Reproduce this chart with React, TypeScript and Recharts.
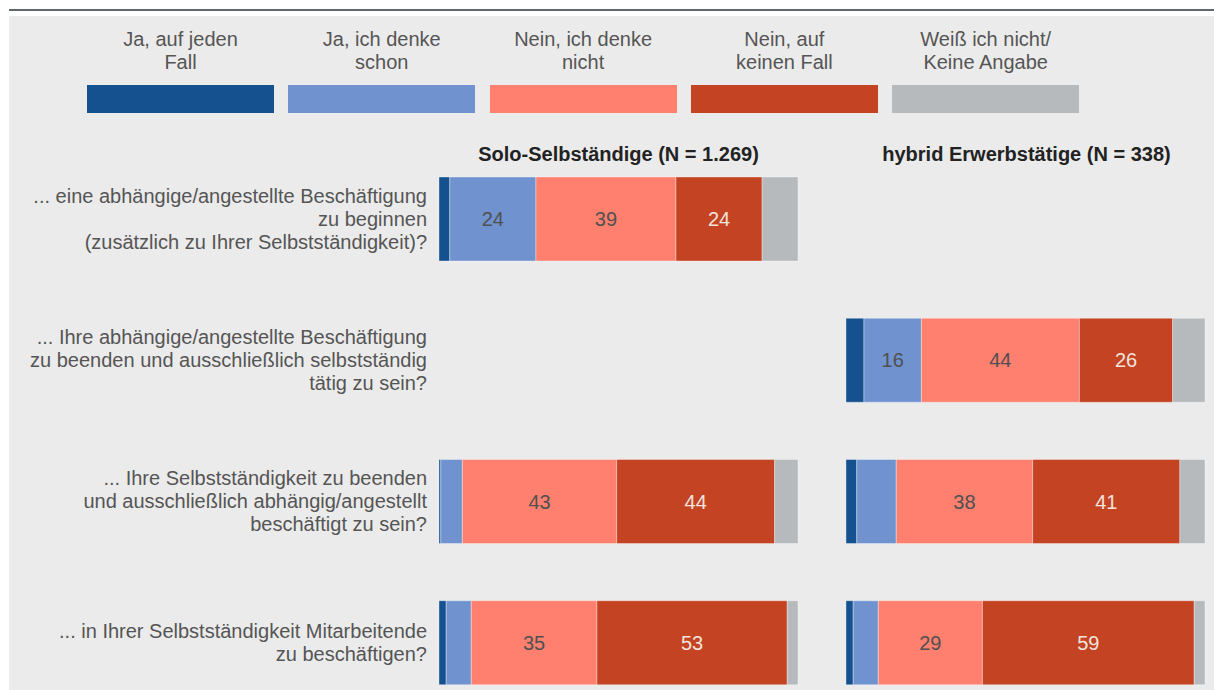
import { BarChart, Bar, XAxis, YAxis, LabelList } from "recharts";

// question labels (one entry per row, split into lines)
const questions = [
  ["... eine abhängige/angestellte Beschäftigung", "zu beginnen", "(zusätzlich zu Ihrer Selbstständigkeit)?"],
  ["... Ihre abhängige/angestellte Beschäftigung", "zu beenden und ausschließlich selbstständig", "tätig zu sein?"],
  ["... Ihre Selbstständigkeit zu beenden", "und ausschließlich abhängig/angestellt", "beschäftigt zu sein?"],
  ["... in Ihrer Selbstständigkeit Mitarbeitende", "zu beschäftigen?"],
];

const answerLabels = [
  ["Ja, auf jeden", "Fall"],
  ["Ja, ich denke", "schon"],
  ["Nein, ich denke", "nicht"],
  ["Nein, auf", "keinen Fall"],
  ["Weiß ich nicht/", "Keine Angabe"],
];
const answerKeys = ["jaSicher", "jaEher", "neinEher", "neinSicher", "weissNicht"];
const answerColors = ["#15508f", "#7093d0", "#ff806e", "#c44322", "#b6babd"];
const labelColors = ["#505050", "#505050", "#505050", "#f3e3de", "#505050"];

const panelTitles = ["Solo-Selbständige (N = 1.269)", "hybrid Erwerbstätige (N = 338)"];

// Solo-Selbständige, in %
const soloJaSicher = [3, null, 0.5, 2];
const soloJaEher = [24, null, 6, 7];
const soloNeinEher = [39, null, 43, 35];
const soloNeinSicher = [24, null, 44, 53];
const soloWeissNicht = [10, null, 6.5, 3];

// hybrid Erwerbstätige, in %
const hybridJaSicher = [null, 5, 3, 2];
const hybridJaEher = [null, 16, 11, 7];
const hybridNeinEher = [null, 44, 38, 29];
const hybridNeinSicher = [null, 26, 41, 59];
const hybridWeissNicht = [null, 9, 7, 3];

const FONT = "'Liberation Sans', Arial, sans-serif";

function buildRows(series: (number | null)[][]) {
  return questions.map((q, i) => {
    const row: Record<string, any> = { q: String(i) };
    answerKeys.forEach((k, j) => (row[k] = series[j][i]));
    return row;
  });
}

const soloData = buildRows([soloJaSicher, soloJaEher, soloNeinEher, soloNeinSicher, soloWeissNicht]);
const hybridData = buildRows([hybridJaSicher, hybridJaEher, hybridNeinEher, hybridNeinSicher, hybridWeissNicht]);

function QuestionTick(props: any) {
  const { x, y, payload } = props;
  const lines = questions[Number(payload.value)];
  const lh = 23;
  const start = y - ((lines.length - 1) * lh) / 2;
  return (
    <text x={x - 4} y={start} textAnchor="end" fill="#555" fontSize={20} fontFamily={FONT}>
      {lines.map((l, i) => (
        <tspan key={i} x={x - 4} y={start + i * lh} dy="0.35em">
          {l}
        </tspan>
      ))}
    </text>
  );
}

function valueLabel(color: string) {
  return (props: any) => {
    const { x, y, width, height, value } = props;
    if (value == null || value < 15) return null;
    return (
      <text
        x={x + width / 2}
        y={y + height / 2}
        dy="0.35em"
        textAnchor="middle"
        fill={color}
        fontSize={20}
        fontFamily={FONT}
      >
        {value}
      </text>
    );
  };
}

function Panel({ data, withAxis }: { data: any[]; withAxis: boolean }) {
  return (
    <BarChart
      width={withAxis ? 800 : 360}
      height={565}
      data={data}
      layout="vertical"
      margin={{ top: 0, right: withAxis ? 2 : 1, bottom: 0, left: 0 }}
      barSize={84}
    >
      <XAxis type="number" domain={[0, 100]} hide />
      <YAxis
        type="category"
        dataKey="q"
        width={withAxis ? 439 : 0}
        hide={!withAxis}
        axisLine={false}
        tickLine={false}
        tick={<QuestionTick />}
        interval={0}
      />
      {answerKeys.map((k, j) => (
        <Bar
          key={k}
          dataKey={k}
          stackId="a"
          fill={answerColors[j]}
          stroke="#ffffff"
          strokeOpacity={0.35}
          strokeWidth={1}
          isAnimationActive={false}
        >
          {j >= 1 && j <= 3 && <LabelList dataKey={k} content={valueLabel(labelColors[j])} />}
        </Bar>
      ))}
    </BarChart>
  );
}

export default function App() {
  return (
    <div
      style={{
        position: "fixed",
        left: 0,
        top: 0,
        width: 1214,
        height: 690,
        overflow: "hidden",
        background: "#ffffff",
        fontFamily: FONT,
      }}
    >
      <div style={{ position: "absolute", left: 9, top: 9, width: 1205, height: 2, background: "#5f6770" }} />
      <div style={{ position: "absolute", left: 9, top: 16, right: 0, bottom: 0, background: "#ebebeb" }} />

      {/* legend */}
      {answerLabels.map((lines, j) => (
        <div key={j} style={{ position: "absolute", left: 87 + j * 201.3, top: 28, width: 187 }}>
          <div style={{ textAlign: "center", color: "#555", fontSize: 20, lineHeight: "23px" }}>
            {lines.map((l, i) => (
              <div key={i}>{l}</div>
            ))}
          </div>
          <div
            style={{
              position: "absolute",
              top: 57,
              left: 0,
              width: 187,
              height: 28,
              background: answerColors[j],
            }}
          />
        </div>
      ))}

      {/* panel titles */}
      {panelTitles.map((t, i) => (
        <div
          key={t}
          style={{
            position: "absolute",
            left: i === 0 ? 439 : 847,
            width: 359,
            top: 143,
            textAlign: "center",
            fontWeight: "bold",
            fontSize: 20,
            lineHeight: "23px",
            color: "#222",
          }}
        >
          {t}
        </div>
      ))}

      <div style={{ position: "absolute", left: 0, top: 148 }}>
        <Panel data={soloData} withAxis />
      </div>
      <div style={{ position: "absolute", left: 846, top: 148 }}>
        <Panel data={hybridData} withAxis={false} />
      </div>
    </div>
  );
}
